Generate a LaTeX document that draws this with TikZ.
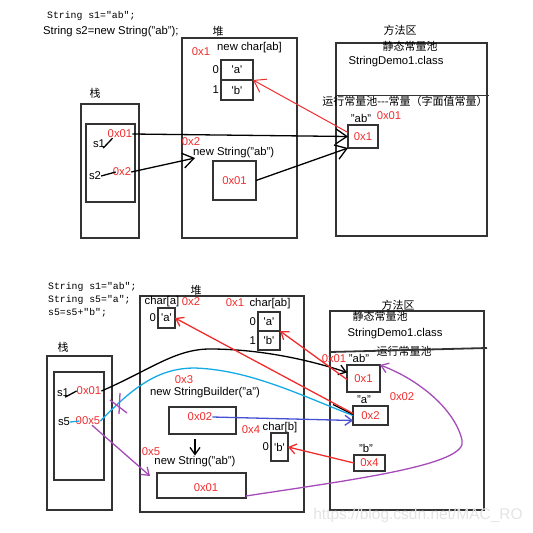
\documentclass[tikz,border=0pt]{standalone}
\usepackage{fontspec}
\setmainfont{Liberation Sans}
\setmonofont{Liberation Mono}
\newfontfamily\zhfont{Noto Sans CJK SC}
\usetikzlibrary{arrows.meta,positioning}
\definecolor{addrred}{RGB}{240,45,45}
\definecolor{refcyan}{RGB}{20,170,230}
\definecolor{refblue}{RGB}{70,80,210}
\definecolor{refpurple}{RGB}{165,75,185}
\newcommand\chq[1]{\textquotesingle#1\textquotesingle}

\begin{document}
\begin{tikzpicture}[x=1pt, y=-1pt,
  txt/.style={inner sep=0pt, font=\fontsize{11.3}{13}\selectfont},
  addr/.style={txt, text=addrred},
  code/.style={inner sep=0pt, anchor=west, font=\ttfamily\fontsize{9.8}{12}\selectfont},
  zhtxt/.style={inner sep=0pt, font=\zhfont\fontsize{11}{13}\selectfont},
  box/.style={txt, draw=black!80, line width=1.8pt, outer sep=0pt},
  tick/.style={line width=1.3pt},
  ptr/.style={line width=1.3pt, -{Straight Barb[length=7pt,width=10pt]}},
  bigptr/.style={line width=1.3pt, -{Straight Barb[length=11pt,width=15pt]}}]
\useasboundingbox (0,0) rectangle (533,533);

\node[code] (codeTa) at (47,16) {String s1="ab";};
\node[txt, anchor=west] (codeTb) at (43,32) {String s2=new String("ab");};

\node[zhtxt] (heapTlbl) at (218,31) {堆};
\node[box, minimum width=115pt, minimum height=200pt] (heapT) at (239.5,138) {};
\node[addr] (chrTaddr) at (201,52) {0x1};
\node[txt, anchor=west] (chrTlbl) at (217,48) {new char[ab]};
\node[box, minimum width=32pt, minimum height=20pt] (cellTa) at (237,70) {\chq{a}};
\node[box, minimum width=32pt, minimum height=20pt, below=0pt of cellTa] (cellTb) {\chq{b}};
\node[txt, left=2pt of cellTa] (idxTa) {0};
\node[txt, left=2pt of cellTb] (idxTb) {1};
\node[addr] (strTaddr) at (191,142) {0x2};
\node[txt, anchor=west] (strTlbl) at (193,153) {new String("ab")};
\node[box, text=addrred, minimum width=43pt, minimum height=39pt] (strT) at (234.5,180.5) {0x01};
\coordinate (strTin) at (195,158);

\node[zhtxt] (stackTlbl) at (95,93) {栈};
\node[box, minimum width=58pt, minimum height=134pt] (stackT) at (110,171) {};
\node[box, minimum width=49pt, minimum height=78pt] (frameT) at (110.5,163) {};
\node[txt] (s1T) at (99,144) {s1};
\node[addr] (s1Tval) at (120,134) {0x01};
\node[txt] (s2T) at (95,176) {s2};
\node[addr] (s2Tval) at (122,172) {0x2};

\node[zhtxt] (methTlbl) at (400,30) {方法区};
\node[box, minimum width=151pt, minimum height=193pt] (methT) at (411.5,139.5) {};
\node[zhtxt] (constT) at (410,46) {静态常量池};
\node[txt] (classT) at (396,62) {StringDemo1.class};
\node[zhtxt] (rtT) at (405,101) {运行常量池---常量（字面值常量）};
\draw[line width=1.8pt, black!80] (methT.west |- rtT.north) -- ++(153,0);
\node[txt] (abT) at (361,118) {"ab"};
\node[addr] (abTaddr) at (389,116) {0x01};
\node[box, text=addrred, minimum width=30pt, minimum height=23pt] (poolT) at (363,136.5) {0x1};

\draw[tick] ([xshift=-2pt]s1T.south east) -- ([xshift=5pt]s1Tval.south west);
\draw[tick] (s2T.east) -- ([xshift=3pt]s2Tval.west);
\draw[bigptr] (s1Tval.east) -- (poolT.west);
\draw[bigptr] (s2Tval.east) -- (strTin);
\draw[bigptr] (strT.east) -- (poolT.south west);
\draw[bigptr, addrred, line width=1pt] ([yshift=4pt]poolT.west) -- (cellTa.south east);

\node[code] (codeBa) at (48,287) {String s1="ab";};
\node[code] (codeBb) at (48,300) {String s5="a";};
\node[code] (codeBc) at (48,313) {s5=s5+"b";};

\node[zhtxt] (heapBlbl) at (196,290) {堆};
\node[box, minimum width=164pt, minimum height=216pt] (heapB) at (222,404) {};
\node[txt] (chrAlbl) at (162,302) {char[a]};
\node[addr] (chrAaddr) at (191,302) {0x2};
\node[box, minimum width=17pt, minimum height=20pt] (cellA) at (166.5,318) {\chq{a}};
\node[txt, left=2pt of cellA] (idxA) {0};
\node[addr] (chrABaddr) at (235,303) {0x1};
\node[txt] (chrABlbl) at (270,304) {char[ab]};
\node[box, minimum width=22pt, minimum height=19pt] (cellABa) at (269,321.5) {\chq{a}};
\node[box, minimum width=22pt, minimum height=19pt, below=0pt of cellABa] (cellABb) {\chq{b}};
\node[txt, left=2pt of cellABa] (idxABa) {0};
\node[txt, left=2pt of cellABb] (idxABb) {1};
\node[addr] (sbBaddr) at (184,380) {0x3};
\node[txt] (sbBlbl) at (205,393) {new StringBuilder("a")};
\node[box, minimum width=67pt, minimum height=27pt] (sbB) at (202.5,420.5) {};
\node[addr] (sbBval) at (200,417) {0x02};
\node[addr] (chrBaddr) at (251,430) {0x4};
\node[txt] (chrBlbl) at (280,428) {char[b]};
\node[box, minimum width=17pt, minimum height=28pt] (cellB) at (279.5,447) {\chq{b}};
\node[txt, left=2pt of cellB] (idxB) {0};
\node[addr] (nsBaddr) at (151,452) {0x5};
\node[txt] (nsBlbl) at (195,462) {new String("ab")};
\node[box, minimum width=89pt, minimum height=25pt] (nsB) at (201.5,485.5) {};
\node[addr] (nsBval) at (206,488) {0x01};
\coordinate (nsBin) at (150,476);

\node[zhtxt] (stackBlbl) at (63,347) {栈};
\node[box, minimum width=65pt, minimum height=154pt] (stackB) at (79.5,433) {};
\node[box, minimum width=50pt, minimum height=108pt] (frameB) at (79,426) {};
\node[txt] (s1B) at (63,393) {s1};
\node[addr] (s1Bval) at (89,391) {0x01};
\node[txt] (s5B) at (64,422) {s5};
\node[addr] (s5Bval) at (88,421) {00x5};

\node[zhtxt] (methBlbl) at (398,305) {方法区};
\node[box, minimum width=154pt, minimum height=199pt] (methB) at (407,410.5) {};
\node[zhtxt] (constB) at (380,316) {静态常量池};
\node[txt] (classB) at (395,334) {StringDemo1.class};
\node[zhtxt] (rtB) at (404,351) {运行常量池};
\draw[line width=1.8pt, black!80] (methB.west |- 0,352) -- (487,348);
\node[addr] (abBaddr) at (334,359) {0x01};
\node[txt] (abB) at (359,358) {"ab"};
\node[box, text=addrred, minimum width=33pt, minimum height=27pt] (poolB1) at (363.5,378.5) {0x1};
\node[txt] (aB) at (364,400) {"a"};
\node[box, text=addrred, minimum width=35pt, minimum height=19pt] (poolB2) at (370.5,415.5) {0x2};
\node[addr] (sbPtr) at (402,397) {0x02};
\node[txt] (bB) at (366,448) {"b"};
\node[box, text=addrred, minimum width=31pt, minimum height=16pt] (poolB4) at (369.5,463) {0x4};

\draw[tick] ([xshift=-4pt]s1B.south east) -- (s1Bval.west);
\draw[tick, refcyan] (s5B.east) -- ([xshift=4pt]s5Bval.west);
\draw[ptr] (s1Bval.east) .. controls (150,370) and (175,349) .. (210,349)
  .. controls (260,349) and (310,360) .. ([yshift=6pt]poolB1.west);
\draw[tick, refcyan] (s5Bval.east) .. controls (135,385) and (160,368) .. (195,368)
  .. controls (250,370) and (300,395) .. (poolB2.west);
\draw[tick] ([shift={(-20pt,11pt)}]poolB2.west) -- ([yshift=1pt]poolB2.west);
\draw[tick, refpurple] (120,393) -- (119,414);
\draw[tick, refpurple] (110,400) -- (127,413);
\draw[ptr, refpurple] ([xshift=4pt]s5Bval.south) -- (nsBin);
\draw[ptr, refblue] (sbBval.east) -- ([yshift=-5pt]poolB2.west);
\draw[ptr, shorten <=5pt, shorten >=1pt] (sbB.south -| nsBlbl.north) -- (nsBlbl.north);
\draw[ptr, refpurple] ([yshift=2pt]nsB.south east) .. controls (350,480) and (470,465) .. (462,440)
  .. controls (455,410) and (420,380) .. (poolB1.north east);
\draw[ptr, addrred] ([yshift=-1pt]poolB1.west) -- (cellABa.south east);
\draw[ptr, addrred] ([yshift=2pt]poolB2.west) -- (cellA.east);
\draw[ptr, addrred] (poolB4.west) -- (cellB.east);

\node[text=gray!22, inner sep=0pt, font=\fontsize{15.5}{18}\selectfont] (mark) at (418,515) {https://blog.csdn.net/MAC\_RO};
\end{tikzpicture}
\end{document}
